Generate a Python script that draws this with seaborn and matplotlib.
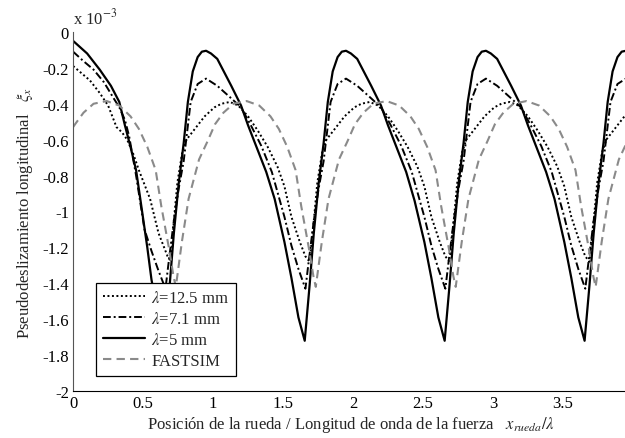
import numpy as np
import matplotlib
matplotlib.use("Agg")
import matplotlib.pyplot as plt
import seaborn as sns

# lambda = 5 mm (solid)
x_5 = [0.00, 0.10, 0.19, 0.27, 0.33, 0.37, 0.41, 0.45, 0.48, 0.53, 0.56, 0.61, 0.655,
       0.69, 0.72, 0.755, 0.79, 0.82, 0.855, 0.89, 0.92, 0.95, 0.985,
       1.03, 1.13, 1.20, 1.25, 1.32, 1.38, 1.44, 1.51, 1.56, 1.61, 1.655,
       1.69, 1.72, 1.755, 1.79, 1.82, 1.855, 1.89, 1.92, 1.95, 1.985,
       2.03, 2.13, 2.20, 2.25, 2.32, 2.38, 2.44, 2.51, 2.56, 2.61, 2.655,
       2.69, 2.72, 2.755, 2.79, 2.82, 2.855, 2.89, 2.92, 2.95, 2.985,
       3.03, 3.13, 3.20, 3.25, 3.32, 3.38, 3.44, 3.51, 3.56, 3.61, 3.655,
       3.69, 3.72, 3.755, 3.79, 3.82, 3.855, 3.89, 3.92, 3.95, 3.98]
y_5 = [-0.05, -0.12, -0.21, -0.30, -0.39, -0.52, -0.64, -0.77, -0.93, -1.20, -1.38, -1.59, -1.72,
       -1.41, -1.12, -0.84, -0.62, -0.39, -0.22, -0.14, -0.11, -0.105, -0.12,
       -0.15, -0.30, -0.41, -0.52, -0.66, -0.78, -0.93, -1.17, -1.37, -1.59, -1.72,
       -1.41, -1.12, -0.84, -0.62, -0.39, -0.22, -0.14, -0.11, -0.105, -0.12,
       -0.15, -0.30, -0.41, -0.52, -0.66, -0.78, -0.94, -1.17, -1.37, -1.59, -1.72,
       -1.41, -1.12, -0.84, -0.62, -0.39, -0.22, -0.14, -0.11, -0.105, -0.12,
       -0.15, -0.30, -0.41, -0.52, -0.66, -0.78, -0.93, -1.17, -1.37, -1.59, -1.72,
       -1.41, -1.12, -0.84, -0.62, -0.39, -0.22, -0.14, -0.11, -0.105, -0.12]

# lambda = 7.1 mm (dash-dot)
x_71 = [0.00, 0.07, 0.146, 0.22, 0.29, 0.33, 0.37, 0.40, 0.45, 0.51, 0.56, 0.61, 0.66,
        0.68, 0.72, 0.755, 0.79, 0.84, 0.89, 0.95,
        1.03, 1.13, 1.20, 1.27, 1.345, 1.42, 1.51, 1.56, 1.61, 1.66,
        1.68, 1.72, 1.755, 1.79, 1.84, 1.89, 1.95,
        2.03, 2.13, 2.20, 2.27, 2.345, 2.42, 2.51, 2.56, 2.61, 2.66,
        2.68, 2.72, 2.755, 2.79, 2.84, 2.89, 2.95,
        3.03, 3.13, 3.20, 3.27, 3.345, 3.42, 3.51, 3.56, 3.61, 3.66,
        3.68, 3.72, 3.755, 3.79, 3.84, 3.89, 3.95, 3.98]
y_71 = [-0.11, -0.16, -0.21, -0.28, -0.37, -0.42, -0.49, -0.58, -0.80, -1.10, -1.22, -1.33, -1.43,
        -1.30, -1.05, -0.87, -0.72, -0.39, -0.29, -0.26,
        -0.30, -0.37, -0.42, -0.52, -0.635, -0.78, -1.03, -1.19, -1.32, -1.43,
        -1.30, -1.05, -0.87, -0.72, -0.39, -0.29, -0.26,
        -0.30, -0.37, -0.42, -0.52, -0.635, -0.78, -1.03, -1.19, -1.32, -1.43,
        -1.30, -1.05, -0.87, -0.72, -0.39, -0.29, -0.26,
        -0.30, -0.37, -0.42, -0.52, -0.635, -0.78, -1.03, -1.19, -1.32, -1.43,
        -1.30, -1.05, -0.87, -0.72, -0.39, -0.29, -0.26, -0.28]

# lambda = 12.5 mm (dotted)
x_125 = [0.00, 0.12, 0.19, 0.25, 0.29, 0.31, 0.35, 0.386, 0.43, 0.47, 0.55, 0.61, 0.675, 0.70,
         0.72, 0.745, 0.78, 0.81, 0.87, 0.94,
         1.01, 1.06, 1.12, 1.18, 1.25, 1.32, 1.39, 1.46, 1.51, 1.56, 1.62, 1.66, 1.69,
         1.72, 1.745, 1.78, 1.81, 1.87, 1.94,
         2.01, 2.06, 2.12, 2.18, 2.25, 2.32, 2.39, 2.46, 2.51, 2.56, 2.62, 2.66, 2.69,
         2.72, 2.745, 2.78, 2.81, 2.87, 2.94,
         3.01, 3.06, 3.12, 3.18, 3.25, 3.32, 3.39, 3.46, 3.51, 3.56, 3.62, 3.66, 3.69,
         3.72, 3.745, 3.78, 3.81, 3.87, 3.94, 3.98]
y_125 = [-0.19, -0.27, -0.34, -0.41, -0.49, -0.53, -0.56, -0.60, -0.68, -0.77, -0.93, -1.12, -1.25, -1.28,
         -1.05, -0.84, -0.67, -0.60, -0.54, -0.47,
         -0.42, -0.40, -0.39, -0.41, -0.47, -0.55, -0.64, -0.75, -0.86, -1.03, -1.17, -1.25, -1.28,
         -1.05, -0.84, -0.67, -0.60, -0.54, -0.47,
         -0.42, -0.40, -0.39, -0.41, -0.47, -0.55, -0.64, -0.75, -0.86, -1.03, -1.17, -1.25, -1.28,
         -1.05, -0.84, -0.67, -0.60, -0.54, -0.47,
         -0.42, -0.40, -0.39, -0.41, -0.47, -0.55, -0.64, -0.75, -0.86, -1.03, -1.17, -1.25, -1.28,
         -1.05, -0.84, -0.67, -0.60, -0.54, -0.47, -0.44]

# FASTSIM (grey dashed)
x_fs = [0.00, 0.014, 0.074, 0.146, 0.24, 0.33, 0.41, 0.47, 0.53, 0.59, 0.63, 0.686, 0.717, 0.734,
        0.777, 0.825, 0.90, 0.96,
        1.014, 1.074, 1.146, 1.24, 1.33, 1.41, 1.47, 1.53, 1.59, 1.63, 1.686, 1.717, 1.734,
        1.777, 1.825, 1.90, 1.96,
        2.014, 2.074, 2.146, 2.24, 2.33, 2.41, 2.47, 2.53, 2.59, 2.63, 2.686, 2.717, 2.734,
        2.777, 2.825, 2.90, 2.96,
        3.014, 3.074, 3.146, 3.24, 3.33, 3.41, 3.47, 3.53, 3.59, 3.63, 3.686, 3.717, 3.734,
        3.777, 3.825, 3.90, 3.96, 3.98]
y_fs = [-0.53, -0.514, -0.45, -0.40, -0.385, -0.41, -0.47, -0.54, -0.64, -0.77, -0.97, -1.21, -1.36, -1.42,
        -1.17, -0.93, -0.71, -0.61,
        -0.514, -0.45, -0.40, -0.385, -0.41, -0.47, -0.54, -0.64, -0.77, -0.97, -1.21, -1.36, -1.42,
        -1.17, -0.93, -0.71, -0.61,
        -0.514, -0.45, -0.40, -0.385, -0.41, -0.47, -0.54, -0.64, -0.77, -0.97, -1.21, -1.36, -1.42,
        -1.17, -0.93, -0.71, -0.61,
        -0.514, -0.45, -0.40, -0.385, -0.41, -0.47, -0.54, -0.64, -0.77, -0.97, -1.21, -1.36, -1.42,
        -1.17, -0.93, -0.71, -0.61, -0.58]

x_ticks = [0, 0.5, 1, 1.5, 2, 2.5, 3, 3.5]
x_ticklabels = ["0", "0.5", "1", "1.5", "2", "2.5", "3", "3.5"]
y_ticks = [0, -0.2, -0.4, -0.6, -0.8, -1, -1.2, -1.4, -1.6, -1.8, -2]
y_ticklabels = ["0", "-0.2", "-0.4", "-0.6", "-0.8", "-1", "-1.2", "-1.4", "-1.6", "-1.8", "-2"]

sns.set_style("white")
plt.rcParams["font.family"] = ["Liberation Serif", "DejaVu Serif"]
plt.rcParams["mathtext.fontset"] = "stix"
plt.rcParams["font.size"] = 12

fig = plt.figure(figsize=(6.25, 4.39), dpi=100)
ax = fig.add_axes([0.117, 0.107, 0.89, 0.818])

sns.lineplot(x=x_125, y=y_125, ax=ax, color="black", lw=1.4,
             linestyle=(0, (1, 1.3)), label=r"$\lambda$=12.5 mm")
sns.lineplot(x=x_71, y=y_71, ax=ax, color="black", lw=1.4,
             linestyle=(0, (4, 1.5, 1, 1.5)), label=r"$\lambda$=7.1 mm")
sns.lineplot(x=x_5, y=y_5, ax=ax, color="black", lw=1.6,
             linestyle="-", label=r"$\lambda$=5 mm")
sns.lineplot(x=x_fs, y=y_fs, ax=ax, color="#8a8a8a", lw=1.5,
             linestyle=(0, (4, 2.5)), label="FASTSIM")

ax.set_xlim(0, 3.975)
ax.set_ylim(-2, 0)
ax.set_xticks(x_ticks)
ax.set_xticklabels(x_ticklabels)
ax.set_yticks(y_ticks)
ax.set_yticklabels(y_ticklabels)
ax.tick_params(direction="in", length=5, width=0.8, colors="black", labelsize=12, pad=3)

for s in ["top", "right"]:
    ax.spines[s].set_visible(False)
ax.spines["left"].set_color("#555555")
ax.spines["bottom"].set_color("black")

ax.set_xlabel(r"Posición de la rueda / Longitud de onda de la fuerza   $x_{rueda}/\lambda$",
              fontsize=12, labelpad=2)
ax.set_ylabel(r"Pseudodeslizamiento longitudinal   $\xi_x$", fontsize=12, labelpad=5)
ax.text(0.0, 1.012, r"x 10$^{-3}$", transform=ax.transAxes, ha="left", va="bottom", fontsize=12)

leg = ax.legend(loc="lower left", bbox_to_anchor=(0.042, 0.043), borderaxespad=0,
                fancybox=False, framealpha=1, edgecolor="black", fontsize=12,
                handlelength=2.5, handletextpad=0.4, labelspacing=0.3, borderpad=0.4)
leg.get_frame().set_linewidth(0.9)

fig.savefig("out.png", dpi=100)
